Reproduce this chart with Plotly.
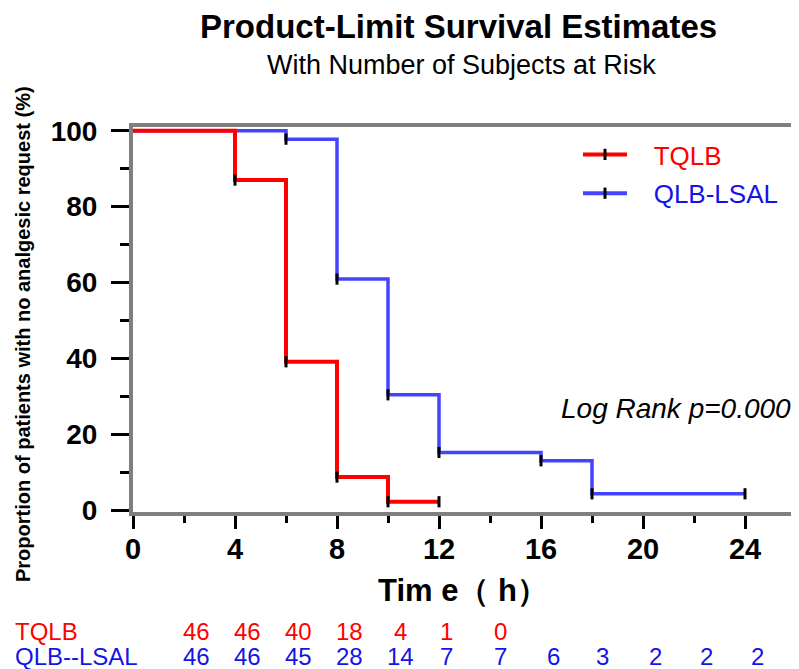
import plotly.graph_objects as go

# ---- data ----
tqlb_time = [0, 4, 6, 8, 10, 12]
tqlb_surv = [100, 87.0, 39.1, 8.7, 2.2, 2.2]
qlb_time = [0, 6, 8, 10, 12, 16, 18, 24]
qlb_surv = [100, 97.8, 60.9, 30.4, 15.2, 13.0, 4.3, 4.3]

risk_times = [2.5, 4.5, 6.5, 8.5, 10.5, 12.3, 14.4, 16.5, 18.4, 20.5, 22.5, 24.5]
risk_tqlb = ["46", "46", "40", "18", "4", "1", "0"]
risk_qlb = ["46", "46", "45", "28", "14", "7", "7", "6", "3", "2", "2", "2"]

series_names = ["TQLB", "QLB-LSAL"]
risk_row_labels = ["TQLB", "QLB--LSAL"]

RED = "#FF0000"
BLUE_LINE = "#4444FF"
BLUE_TEXT = "#1414E6"
FONT = "Liberation Sans, Arial, sans-serif"

# page is offset by the default 8px body margin
OFF = 8
W, H = 799 - OFF, 669 - OFF
PL, PR, PT, PB = 133, 796, 127, 512  # plot area in page pixels


def px_x(px):
    return (px - PL) / (PR - PL)


def px_y(py):
    return (PB - py) / (PB - PT)


fig = go.Figure()

# step curves
fig.add_trace(go.Scatter(x=qlb_time, y=qlb_surv, mode="lines", line_shape="hv",
                         line=dict(color=BLUE_LINE, width=3.5), showlegend=False))
fig.add_trace(go.Scatter(x=tqlb_time, y=tqlb_surv, mode="lines", line_shape="hv",
                         line=dict(color=RED, width=4), showlegend=False))
# tick marks at event times
fig.add_trace(go.Scatter(x=tqlb_time[1:], y=tqlb_surv[1:], mode="markers",
                         marker=dict(symbol="line-ns", size=8, line=dict(color="black", width=3)),
                         showlegend=False))
fig.add_trace(go.Scatter(x=qlb_time[1:], y=qlb_surv[1:], mode="markers",
                         marker=dict(symbol="line-ns", size=8, line=dict(color="black", width=3)),
                         showlegend=False))

# legend entries
for i, (nm, col, tcol) in enumerate([(series_names[0], RED, RED),
                                      (series_names[1], BLUE_LINE, BLUE_TEXT)]):
    fig.add_trace(go.Scatter(x=[None], y=[None], mode="lines+markers",
                             name=f"&nbsp;&nbsp;&nbsp;<span style='color:{tcol}'>{nm}</span>",
                             legendgroup=f"g{i}",
                             line=dict(color=col, width=4),
                             marker=dict(symbol="line-ns", size=8, color="black",
                                         line=dict(color="black", width=3))))

annotations = []


def ann(text, x, y, size, color="black", xref="paper", xanchor="center", **kw):
    annotations.append(dict(text=text, x=x, y=y, xref=xref, yref="paper",
                            xanchor=xanchor, yanchor="middle", showarrow=False,
                            font=dict(size=size, color=color, family=FONT), **kw))


ann("<b>Product-Limit Survival Estimates</b>", px_x(458), px_y(27), 33)
ann("With Number of Subjects at Risk", px_x(461), px_y(65), 27)
ann("<b>Proportion of patients with no analgesic request (%)</b>", px_x(23), px_y(334), 20,
    textangle=-90)
ann("<b>Tim e（ h）</b>", px_x(463), px_y(590), 31)
ann("<i>Log Rank p=0.000</i>", px_x(793), px_y(408), 28, xanchor="right")

# risk table
ann(risk_row_labels[0], px_x(13), px_y(631), 24, color=RED, xanchor="left")
ann(risk_row_labels[1], px_x(13), px_y(656), 24, color=BLUE_TEXT, xanchor="left")
for t, v in zip(risk_times, risk_tqlb):
    ann(v, t, px_y(631), 24, color=RED, xref="x")
for t, v in zip(risk_times, risk_qlb):
    ann(v, t, px_y(656), 24, color=BLUE_TEXT, xref="x")

fig.update_layout(
    width=W, height=H,
    margin=dict(l=PL - OFF, r=W - (PR - OFF), t=PT - OFF, b=H - (PB - OFF)),
    plot_bgcolor="white", paper_bgcolor="white",
    font=dict(family=FONT, color="black"),
    annotations=annotations,
    legend=dict(x=px_x(578), y=px_y(131), xanchor="left", yanchor="top",
                bgcolor="rgba(0,0,0,0)", font=dict(size=26, family=FONT),
                itemwidth=44, tracegroupgap=2),
)
fig.update_xaxes(range=[0, 26], dtick=4, tick0=0, showgrid=False, zeroline=False,
                 showline=True, linecolor="#7F7F7F", linewidth=4, mirror=True,
                 ticks="outside", ticklen=13, tickwidth=3, tickcolor="black",
                 ticklabelstandoff=-5,
                 tickfont=dict(size=29, family=FONT, weight="bold"),
                 minor=dict(dtick=2, ticks="outside", ticklen=7, tickwidth=3, tickcolor="black"))
fig.update_yaxes(range=[-0.5, 101], dtick=20, tick0=0, showgrid=False, zeroline=False,
                 showline=True, linecolor="#7F7F7F", linewidth=4, mirror=False,
                 ticks="outside", ticklen=18, tickwidth=3, tickcolor="black",
                 ticklabelstandoff=8,
                 tickfont=dict(size=28, family=FONT, weight="bold"),
                 minor=dict(dtick=10, ticks="outside", ticklen=9, tickwidth=3, tickcolor="black"))

fig.write_html("out.html")
